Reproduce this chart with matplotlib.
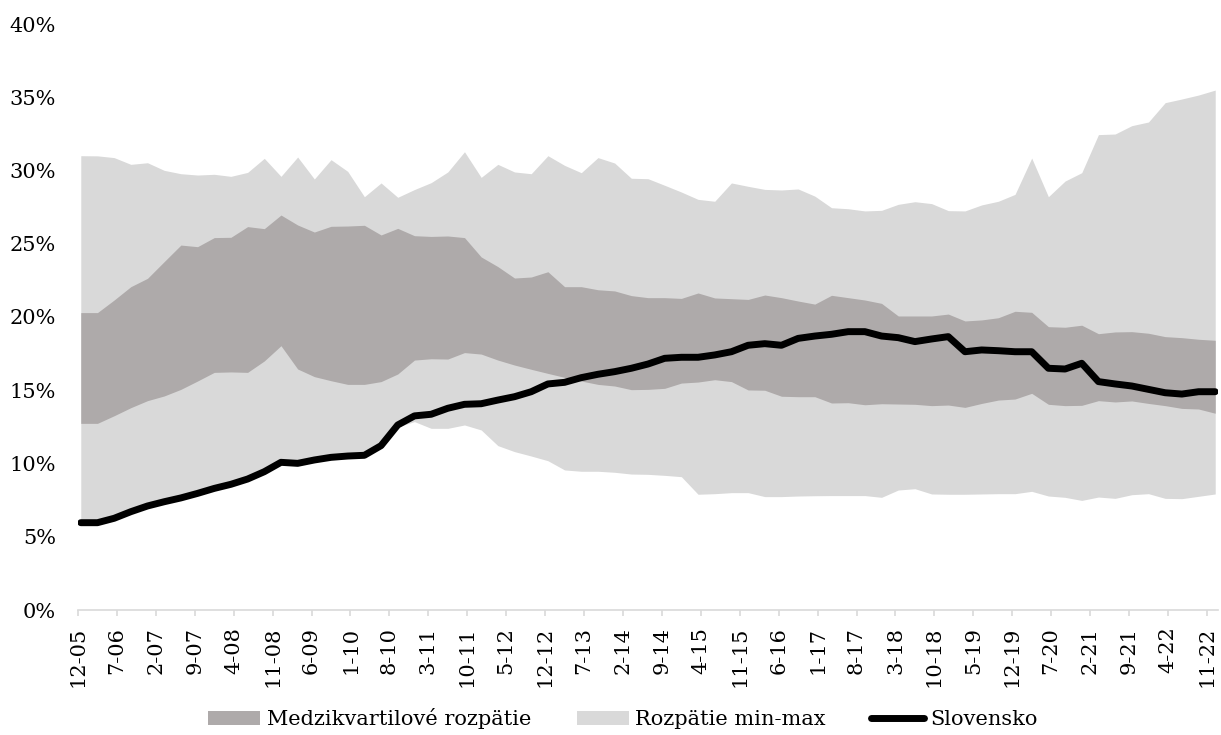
import matplotlib
matplotlib.use('Agg')
import matplotlib.pyplot as plt
import numpy as np
from matplotlib.patches import Patch
from matplotlib.lines import Line2D

# stvrtrocne udaje 12-05 .. 12-22 (v %)
slovensko = [5.96, 5.96, 6.26, 6.71, 7.10, 7.39, 7.65, 7.96, 8.30, 8.58,
             8.94, 9.44, 10.08, 10.01, 10.24, 10.42, 10.51, 10.56, 11.22, 12.63,
             13.25, 13.36, 13.77, 14.04, 14.08, 14.33, 14.56, 14.90, 15.43, 15.54,
             15.86, 16.09, 16.27, 16.50, 16.79, 17.18, 17.25, 17.25, 17.41, 17.63,
             18.07, 18.18, 18.07, 18.54, 18.70, 18.82, 19.00, 19.00, 18.70, 18.59,
             18.32, 18.50, 18.66, 17.63, 17.75, 17.70, 17.63, 17.63, 16.50, 16.45,
             16.84, 15.59, 15.43, 15.29, 15.06, 14.83, 14.74, 14.90, 14.90]
minimum = [5.96, 5.96, 6.26, 6.71, 7.10, 7.39, 7.65, 7.96, 8.30, 8.58,
           8.94, 9.44, 10.08, 10.01, 10.24, 10.42, 10.51, 10.56, 11.22, 12.50,
           12.86, 12.40, 12.40, 12.63, 12.29, 11.22, 10.81, 10.51, 10.19, 9.56,
           9.47, 9.47, 9.40, 9.28, 9.26, 9.19, 9.10, 7.90, 7.94, 8.01,
           8.01, 7.74, 7.74, 7.78, 7.80, 7.81, 7.81, 7.81, 7.69, 8.19,
           8.28, 7.92, 7.90, 7.90, 7.92, 7.94, 7.94, 8.10, 7.78, 7.69,
           7.48, 7.71, 7.62, 7.87, 7.94, 7.62, 7.60, 7.76, 7.92]
kvartil1 = [12.74, 12.74, 13.26, 13.81, 14.29, 14.61, 15.06, 15.63, 16.22, 16.25,
            16.22, 17.00, 18.04, 16.45, 15.93, 15.65, 15.40, 15.40, 15.59, 16.11,
            17.06, 17.15, 17.13, 17.57, 17.47, 17.06, 16.72, 16.43, 16.15, 15.88,
            15.63, 15.40, 15.29, 15.04, 15.06, 15.13, 15.49, 15.56, 15.72, 15.59,
            15.02, 15.00, 14.59, 14.56, 14.56, 14.13, 14.15, 14.01, 14.08, 14.06,
            14.04, 13.95, 13.99, 13.83, 14.10, 14.33, 14.40, 14.79, 14.04, 13.95,
            13.97, 14.29, 14.20, 14.27, 14.10, 13.95, 13.76, 13.72, 13.43]
kvartil3 = [20.30, 20.30, 21.16, 22.07, 22.64, 23.78, 24.91, 24.80, 25.42, 25.44,
            26.17, 26.03, 26.96, 26.28, 25.80, 26.19, 26.21, 26.26, 25.60, 26.05,
            25.55, 25.50, 25.53, 25.42, 24.10, 23.44, 22.66, 22.73, 23.09, 22.07,
            22.07, 21.86, 21.78, 21.46, 21.32, 21.32, 21.27, 21.64, 21.30, 21.25,
            21.20, 21.50, 21.32, 21.09, 20.88, 21.48, 21.32, 21.16, 20.93, 20.07,
            20.07, 20.07, 20.20, 19.73, 19.80, 19.95, 20.39, 20.32, 19.34, 19.30,
            19.44, 18.86, 18.98, 19.00, 18.89, 18.66, 18.59, 18.48, 18.41]
maximum = [31.01, 31.00, 30.88, 30.42, 30.53, 30.01, 29.78, 29.69, 29.74, 29.60,
           29.87, 30.83, 29.60, 30.92, 29.42, 30.74, 29.94, 28.21, 29.15, 28.17,
           28.70, 29.17, 29.90, 31.28, 29.53, 30.42, 29.90, 29.78, 31.01, 30.35,
           29.85, 30.88, 30.51, 29.47, 29.44, 28.99, 28.53, 28.03, 27.90, 29.15,
           28.92, 28.71, 28.67, 28.74, 28.25, 27.46, 27.39, 27.24, 27.28, 27.69,
           27.87, 27.74, 27.26, 27.24, 27.65, 27.90, 28.37, 30.85, 28.21, 29.28,
           29.85, 32.45, 32.49, 33.06, 33.31, 34.63, 34.88, 35.15, 35.49]

popisky = ['12-05', '7-06', '2-07', '9-07', '4-08', '11-08', '6-09', '1-10', '8-10', '3-11',
           '10-11', '5-12', '12-12', '7-13', '2-14', '9-14', '4-15', '11-15', '6-16', '1-17',
           '8-17', '3-18', '10-18', '5-19', '12-19', '7-20', '2-21', '9-21', '4-22', '11-22']

plt.rcParams['font.family'] = ['DejaVu Serif']
plt.rcParams['font.size'] = 15

# os x v mesiacoch od 12-05, body su stvrtrocne
x = 0.5 + 3 * np.arange(len(slovensko))

fig = plt.figure(figsize=(12.21, 7.35), dpi=100)
ax = fig.add_axes([78 / 1221, 1 - 610 / 735, 1140 / 1221, 586 / 735])

ax.fill_between(x, minimum, maximum, color='#D9D9D9', linewidth=0)
ax.fill_between(x, kvartil1, kvartil3, color='#AEAAAA', linewidth=0)
ax.plot(x, slovensko, color='black', linewidth=5, solid_capstyle='round', solid_joinstyle='round')

ax.set_xlim(0, 205)
ax.set_ylim(0, 40)
ax.set_yticks(range(0, 41, 5))
ax.set_yticklabels([f'{v}%' for v in range(0, 41, 5)])
ax.set_xticks(7 * np.arange(len(popisky)))
ax.set_xticklabels(popisky, rotation=90)

for s in ['top', 'right', 'left']:
    ax.spines[s].set_visible(False)
ax.spines['bottom'].set_color('#D9D9D9')
ax.spines['bottom'].set_linewidth(1.2)
ax.tick_params(axis='y', length=0, pad=16)
ax.tick_params(axis='x', length=4, width=1.2, color='#D9D9D9', pad=8)

handles = [Patch(facecolor='#AEAAAA', edgecolor='none'),
           Patch(facecolor='#D9D9D9', edgecolor='none'),
           Line2D([0], [0], color='black', linewidth=5, solid_capstyle='round')]
labels = ['Medzikvartilové rozpätie', 'Rozpätie min-max', 'Slovensko']
fig.legend(handles, labels, loc='center', bbox_to_anchor=(0.51, 0.022), ncol=3,
           frameon=False, handlelength=2.5, handletextpad=0.3, columnspacing=2.2)

plt.savefig('out.png', dpi=100)
